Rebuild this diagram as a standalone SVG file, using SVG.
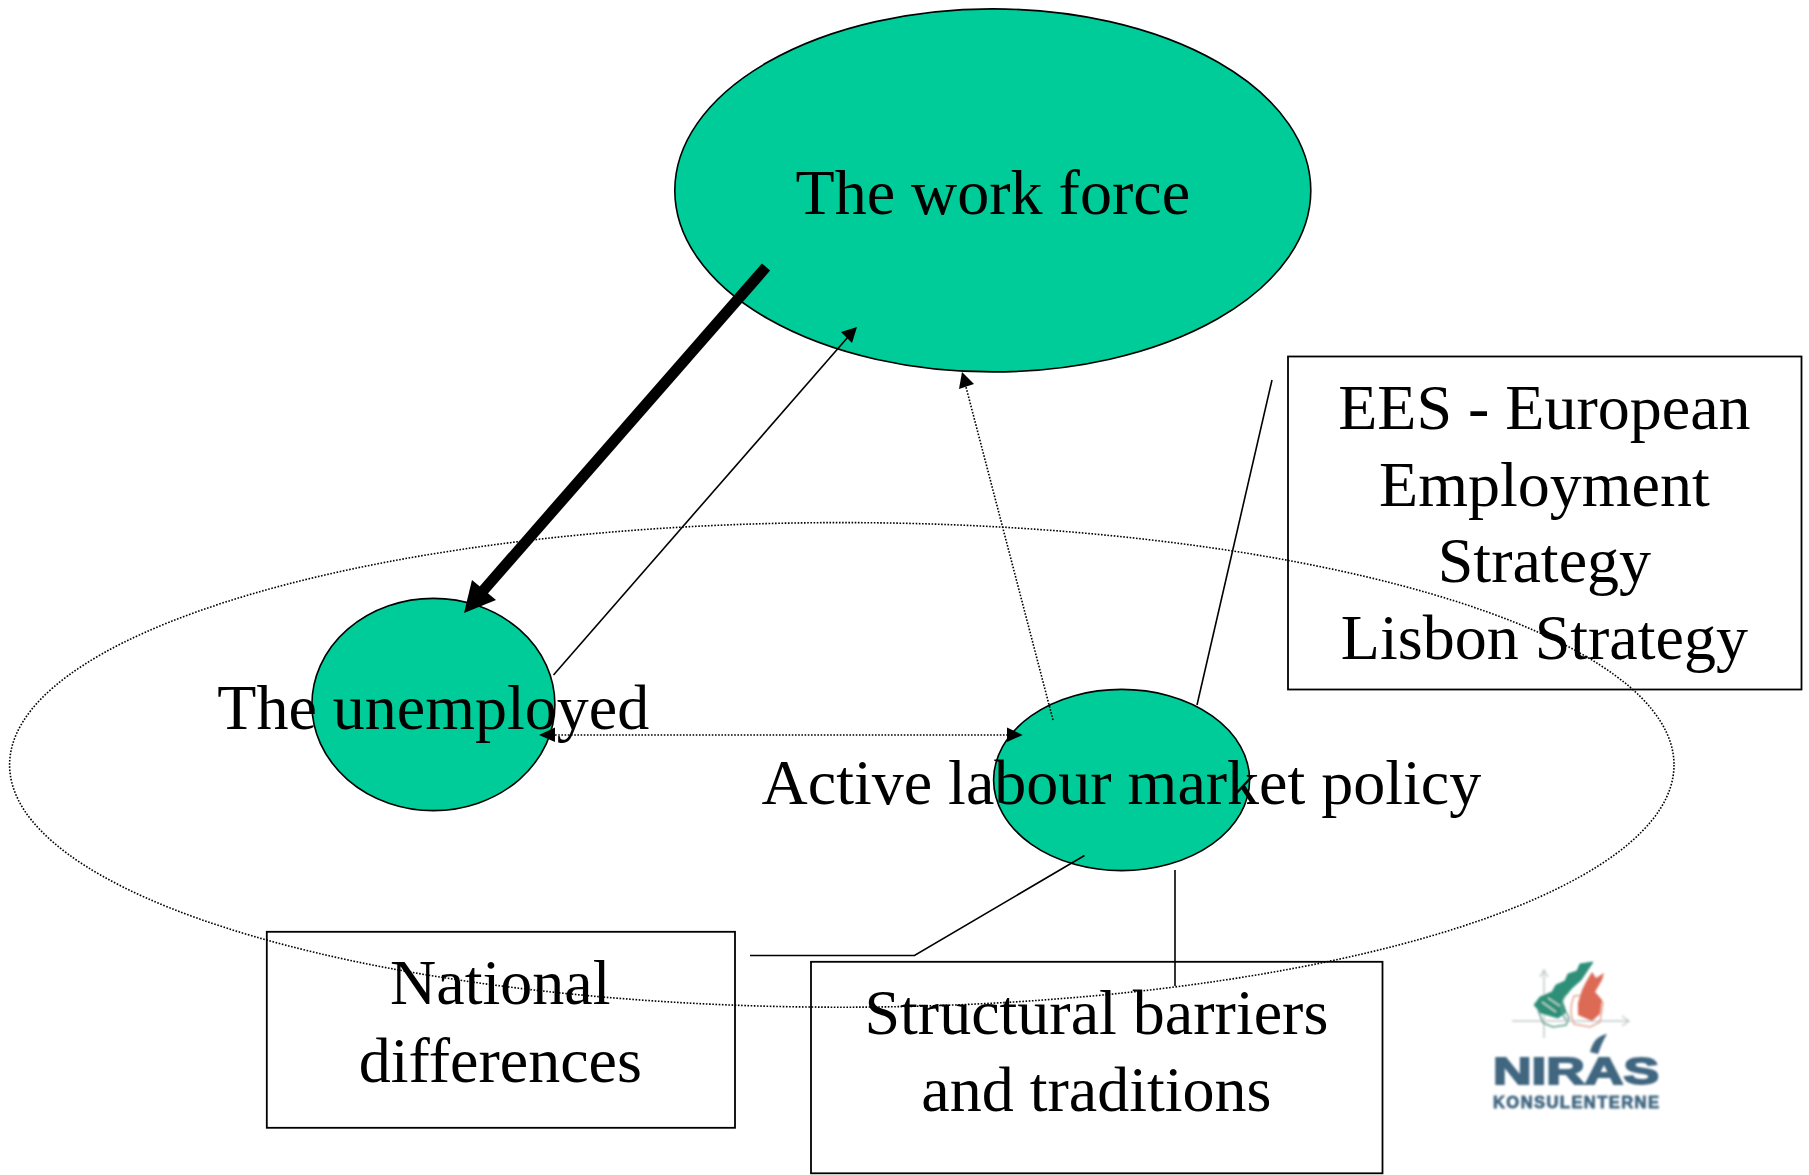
<svg xmlns="http://www.w3.org/2000/svg" width="1809" height="1175" viewBox="0 0 1809 1175">
<style>
.n{fill:#00cc99;stroke:#000;stroke-width:1.6}
.b{fill:none;stroke:#000;stroke-width:1.8}
.t{font-family:"Liberation Serif","Times New Roman",serif;font-size:64px;fill:#000;text-anchor:middle}
.l{fill:none;stroke:#000;stroke-width:1.6}
.d{fill:none;stroke:#000;stroke-width:1.6;stroke-dasharray:1.6 1.6}
.h{fill:#000}
.lg{font-family:"Liberation Sans",Arial,sans-serif;font-weight:bold;fill:#3f6680;stroke:#3f6680}
</style>
<defs><filter id="soft" x="-10%" y="-10%" width="120%" height="120%"><feGaussianBlur stdDeviation="0.9"/></filter></defs>
<rect width="1809" height="1175" fill="#fff"/>
<g id="policy-area"><ellipse class="d" cx="841.800" cy="764.900" rx="832.200" ry="242.300"/></g>
<g id="work-force"><ellipse class="n" cx="992.800" cy="190.400" rx="318" ry="181.500"/><text class="t" x="992.800" y="214">The work force</text></g>
<g id="unemployed"><ellipse class="n" cx="433.400" cy="704.500" rx="121.500" ry="106.100"/></g>
<g id="active-policy"><ellipse class="n" cx="1121.600" cy="780" rx="128" ry="90.600"/></g>
<g id="connectors">
<path d="M766 267L482 592" fill="none" stroke="#000" stroke-width="11"/>
<polygon class="h" points="464,613 472,580 496,600"/>
<line class="l" x1="553.500" y1="675" x2="848" y2="337"/>
<polygon class="h" points="857,327 841,332 852,343"/>
<line class="d" x1="1053" y1="720" x2="966" y2="387"/>
<polygon class="h" points="962,372 959,389 974,384"/>
<line class="d" x1="555" y1="735" x2="1007" y2="735"/>
<polygon class="h" points="539,735 555,727.500 555,742"/>
<polygon class="h" points="1022.700,735 1007,727.500 1007,742"/>
<line class="l" x1="1272" y1="380" x2="1197" y2="705"/>
<polyline class="l" points="750,955.500 914.500,955.500 1084.500,855.500"/>
<line class="l" x1="1175" y1="870" x2="1175" y2="986"/>
</g>
<g id="ees"><rect class="b" x="1288" y="356.500" width="513.500" height="333"/><text class="t"><tspan x="1544.400" y="428.500">EES - European</tspan><tspan x="1544.400" y="505.500">Employment</tspan><tspan x="1544.400" y="582">Strategy</tspan><tspan x="1544.400" y="658.500">Lisbon Strategy</tspan></text></g>
<g id="national"><rect class="b" x="266.800" y="931.800" width="468.200" height="196"/><text class="t"><tspan x="500.300" y="1004.400">National</tspan><tspan x="500.300" y="1081.500">differences</tspan></text></g>
<g id="structural"><rect class="b" x="811" y="961.800" width="571.500" height="211.500"/><text class="t"><tspan x="1096.400" y="1034.200">Structural barriers</tspan><tspan x="1096.400" y="1111">and traditions</tspan></text></g>
<text class="t" x="433.300" y="729" id="unemployed-label">The unemployed</text>
<text class="t" x="1121.400" y="803.900" id="active-policy-label">Active labour market policy</text>
<g id="logo" filter="url(#soft)">
<path d="M1512 1021H1628M1622 1016L1629 1021L1622 1026M1544 1038V971M1540 977L1544 970L1548 977" fill="none" stroke="#c4cccc" stroke-width="1.500"/>
<path d="M1593 962L1580 964L1577 971L1568 974L1565 981L1556 985L1552 992L1540 997L1534 1005L1541 1013L1558 1018L1566 1012L1562 1000L1572 988L1581 980Z" fill="#2f8f78" stroke="#2f8f78" stroke-width="1"/>
<path d="M1542 1002L1556 1012M1548 998L1560 1006" fill="none" stroke="#cfe5de" stroke-width="1.500"/>
<path d="M1538 1010L1543 1023L1553 1027L1566 1025L1569 1018L1566 1012M1565 995Q1558 1008 1566 1020" fill="none" stroke="#5f9f8f" stroke-width="1.500"/>
<path d="M1574 996Q1568 1010 1574 1024L1590 1027L1600 1022L1603 1003L1596 994Z" fill="none" stroke="#e2a898" stroke-width="1.500"/>
<path d="M1582 990L1578 1003L1578 1015L1592 1021L1600 1014L1602 1000L1595 992L1602 980L1604 973L1596 978L1592 972L1586 982Z" fill="#dd6a55"/>
<path d="M1590 1052Q1594 1036 1607 1034Q1602 1042 1598 1054Z" fill="#3f6680"/>
<text class="lg" x="1493" y="1084" font-size="37.500" stroke-width="1.800" textLength="166" lengthAdjust="spacingAndGlyphs">NIRAS</text>
<text class="lg" x="1493" y="1108" font-size="16.500" stroke-width="0.800" textLength="166" lengthAdjust="spacing">KONSULENTERNE</text>
</g>
</svg>
